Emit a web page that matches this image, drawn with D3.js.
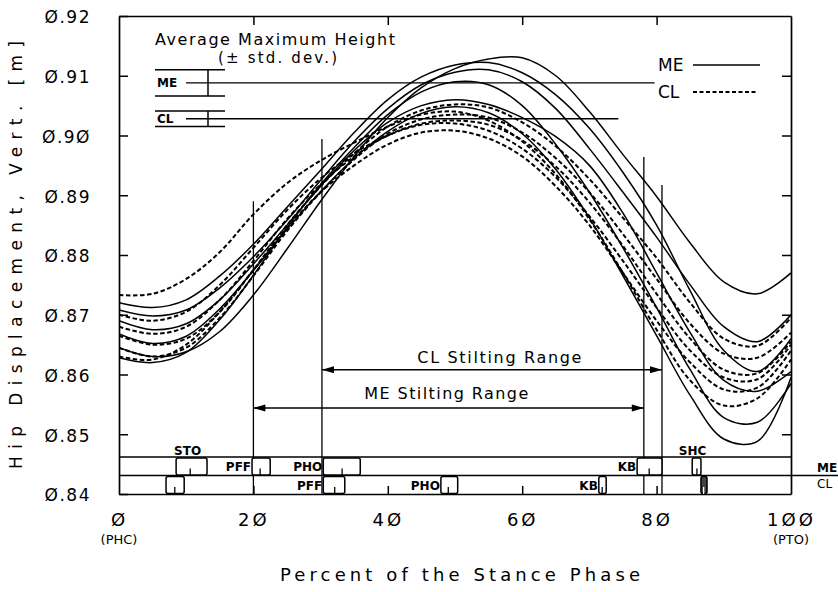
<!DOCTYPE html>
<html><head><meta charset="utf-8">
<script src="https://cdn.jsdelivr.net/npm/d3@7"></script>
<style>
body{margin:0;background:#fff}
svg text{font-family:"DejaVu Sans",sans-serif;fill:#000}
</style>
</head><body>
<svg id="c" width="838" height="592"></svg>
<script>
// ---------- data ----------
const xGrid = [0,5,10,15,20,25,30,35,40,45,50,55,60,65,70,75,80,85,90,95,100];

// ME subjects (solid)
const meS1 = [0.8645,0.8630,0.8638,0.8672,0.8733,0.8810,0.8890,0.8965,0.9030,0.9080,0.9112,0.9128,0.9130,0.9100,0.9040,0.8968,0.8898,0.8820,0.8755,0.8735,0.8770];
const meS2 = [0.8708,0.8698,0.8708,0.8745,0.8797,0.8858,0.8925,0.8990,0.9045,0.9085,0.9106,0.9110,0.9090,0.9045,0.8978,0.8905,0.8830,0.8750,0.8680,0.8655,0.8700];
const meS3 = [0.8720,0.8712,0.8725,0.8765,0.8818,0.8880,0.8942,0.9005,0.9060,0.9098,0.9118,0.9122,0.9105,0.9068,0.9012,0.8938,0.8850,0.8740,0.8640,0.8605,0.8660];
const meS4 = [0.8690,0.8675,0.8685,0.8725,0.8785,0.8850,0.8915,0.8975,0.9022,0.9050,0.9060,0.9052,0.9030,0.8998,0.8950,0.8870,0.8770,0.8670,0.8590,0.8572,0.8605];
const meS5 = [0.8628,0.8620,0.8637,0.8692,0.8766,0.8846,0.8918,0.8980,0.9035,0.9073,0.9090,0.9085,0.9050,0.8985,0.8905,0.8812,0.8712,0.8608,0.8528,0.8520,0.8585];
const meS6 = [0.8668,0.8652,0.8664,0.8710,0.8774,0.8843,0.8906,0.8962,0.9007,0.9037,0.9048,0.9038,0.9003,0.8943,0.8862,0.8765,0.8665,0.8565,0.8492,0.8488,0.8595];
// CL subjects (dashed)
const clD1 = [0.8733,0.8735,0.8760,0.8805,0.8868,0.8920,0.8958,0.8988,0.9015,0.9035,0.9040,0.9025,0.8990,0.8935,0.8860,0.8770,0.8675,0.8590,0.8548,0.8560,0.8625];
const clD2 = [0.8665,0.8650,0.8660,0.8705,0.8775,0.8850,0.8915,0.8970,0.9015,0.9042,0.9052,0.9047,0.9022,0.8982,0.8927,0.8862,0.8795,0.8720,0.8660,0.8648,0.8695];
const clD3 = [0.8645,0.8630,0.8645,0.8695,0.8765,0.8840,0.8905,0.8960,0.9003,0.9027,0.9035,0.9030,0.9005,0.8962,0.8905,0.8835,0.8760,0.8685,0.8635,0.8628,0.8670];
const clD4 = [0.8680,0.8668,0.8680,0.8725,0.8790,0.8860,0.8918,0.8965,0.9000,0.9020,0.9025,0.9018,0.8992,0.8948,0.8888,0.8815,0.8735,0.8660,0.8608,0.8602,0.8655];
const clD5 = [0.8630,0.8625,0.8650,0.8705,0.8775,0.8845,0.8905,0.8950,0.8985,0.9005,0.9008,0.8995,0.8965,0.8915,0.8850,0.8770,0.8690,0.8620,0.8575,0.8578,0.8640];
const clD6 = [0.8700,0.8690,0.8705,0.8750,0.8812,0.8875,0.8928,0.8970,0.9000,0.9018,0.9020,0.9008,0.8978,0.8930,0.8865,0.8790,0.8712,0.8640,0.8595,0.8592,0.8650];

const meSeries = [meS1, meS2, meS3, meS4, meS5, meS6];
const clSeries = [clD1, clD2, clD3, clD4, clD5, clD6];

// average maximum height (mean, sd, extent of mean line in %)
const groups = ["ME", "CL"];
const avgMaxMean = [0.9088, 0.9028];
const avgMaxSd = [0.0022, 0.0013];
const avgMaxLineEnd = [79.7, 74.3];

// stilting ranges: [start %, end %], arrow level, label level, vertical line tops
const stiltStart = [20.0, 30.2];
const stiltEnd = [78.1, 80.8];
const stiltArrowLevel = [0.8544, 0.8608];
const stiltLabelLevel = [0.8569, 0.8629];
const stiltLabelX = [48.7, 56.6];
const stiltTopStart = [0.8890, 0.8994];
const stiltTopEnd = [0.8964, 0.8917];
const stiltLabels = ["ME Stilting Range", "CL Stilting Range"];

// gait events (% of stance): lo, hi, mean
const meEvLabel = ["STO","PFF","PHO","KB","SHC"];
const meEvPos   = ["above","left","left","left","above"];
const meEvLo    = [8.5, 19.8, 30.4, 77.1, 85.3];
const meEvHi    = [13.1, 22.5, 35.9, 80.8, 86.6];
const meEvMean  = [10.6, 21.0, 33.2, 78.9, 86.0];
const clEvLabel = ["","PFF","PHO","KB",""];
const clEvPos   = ["none","left","left","left","none"];
const clEvLo    = [7.0, 30.4, 47.9, 71.4, 86.6];
const clEvHi    = [9.7, 33.6, 50.4, 72.5, 87.5];
const clEvMean  = [8.3, 32.1, 49.0, 71.9, 87.0];
const rowTop = 0.8462, rowMid = 0.8431, rowBot = 0.8400;

const yTicks = [0.84,0.85,0.86,0.87,0.88,0.89,0.90,0.91,0.92];
const yTickLabels = ["Ø.84","Ø.85","Ø.86","Ø.87","Ø.88","Ø.89","Ø.9Ø","Ø.91","Ø.92"];
const xTicks = [0,20,40,60,80,100];
const xTickLabels = ["Ø","2Ø","4Ø","6Ø","8Ø","1ØØ"];

// ---------- drawing ----------
const svg = d3.select("#c");
const x = d3.scaleLinear().domain([0,100]).range([119,791]);
const y = d3.scaleLinear().domain([0.84,0.92]).range([494,16]);

svg.append("defs").append("clipPath").attr("id","clip")
  .append("rect").attr("x",x(0)).attr("y",y(0.92)).attr("width",x(100)-x(0)).attr("height",y(0.84)-y(0.92));

// axes (frame + inward ticks)
const axL = svg.append("g").attr("transform",`translate(${x(0)},0)`)
  .call(d3.axisLeft(y).tickValues(yTicks).tickSizeInner(-9).tickSizeOuter(0).tickPadding(28)
    .tickFormat((d,i)=>yTickLabels[i]));
const axR = svg.append("g").attr("transform",`translate(${x(100)},0)`)
  .call(d3.axisRight(y).tickValues(yTicks.slice(1,-1)).tickSizeInner(-9).tickSizeOuter(0).tickFormat(""));
const axT = svg.append("g").attr("transform",`translate(0,${y(0.92)})`)
  .call(d3.axisTop(x).tickValues([20,40,60,80]).tickSizeInner(-9).tickSizeOuter(0).tickFormat(""));
const axB = svg.append("g").attr("transform",`translate(0,${y(0.84)})`)
  .call(d3.axisBottom(x).tickValues(xTicks).tickSizeInner(-8).tickSizeOuter(0).tickPadding(19)
    .tickFormat((d,i)=>xTickLabels[i]));
[axL,axR,axT,axB].forEach(a=>{
  a.selectAll("path.domain").attr("stroke","#000").attr("stroke-width",1.7);
  a.selectAll(".tick line").attr("stroke","#000").attr("stroke-width",1.5);
});
axB.selectAll(".tick").filter(d=>d===0||d===100).select("line").remove();
axL.selectAll(".tick text").attr("font-size",17).attr("letter-spacing","1.5px").attr("font-family","DejaVu Sans").attr("dy","0.4em");
axB.selectAll(".tick text").attr("font-size",18).attr("letter-spacing","3px").attr("font-family","DejaVu Sans");

// axis titles
svg.append("text").attr("transform",`translate(22,${(y(0.84)+y(0.92))/2}) rotate(-90)`)
  .attr("text-anchor","middle").attr("font-size",17).attr("textLength",428).attr("lengthAdjust","spacing")
  .text("Hip Displacement, Vert. [m]");
svg.append("text").attr("x",460).attr("y",581).attr("text-anchor","middle").attr("font-size",18)
  .attr("textLength",360).attr("lengthAdjust","spacing").text("Percent of the Stance Phase");
svg.append("text").attr("x",x(0)).attr("y",544).attr("text-anchor","middle").attr("font-size",13).text("(PHC)");
svg.append("text").attr("x",x(100)).attr("y",544).attr("text-anchor","middle").attr("font-size",13).text("(PTO)");

// curves
const line = d3.line().x((d,i)=>x(xGrid[i])).y(d=>y(d)).curve(d3.curveCatmullRom.alpha(0.5));
const gc = svg.append("g").attr("clip-path","url(#clip)");
gc.selectAll("path.me").data(meSeries).join("path").attr("class","me")
  .attr("d",line).attr("fill","none").attr("stroke","#000").attr("stroke-width",1.5);
gc.selectAll("path.cl").data(clSeries).join("path").attr("class","cl")
  .attr("d",line).attr("fill","none").attr("stroke","#000").attr("stroke-width",2)
  .attr("stroke-dasharray","4.5,2.5");

// Average maximum height legend
svg.append("text").attr("x",155).attr("y",45).attr("font-size",16).attr("textLength",240)
  .attr("lengthAdjust","spacing").text("Average  Maximum  Height");
svg.append("text").attr("x",218).attr("y",63).attr("font-size",15).attr("textLength",119)
  .attr("lengthAdjust","spacing").text("(± std. dev.)");
groups.forEach((g,i)=>{
  const m = avgMaxMean[i], s = avgMaxSd[i];
  [m+s, m-s].forEach(v=>svg.append("line").attr("x1",155).attr("x2",225).attr("y1",y(v)).attr("y2",y(v))
    .attr("stroke","#000").attr("stroke-width",1.4));
  svg.append("line").attr("x1",208).attr("x2",208).attr("y1",y(m+s)).attr("y2",y(m-s)).attr("stroke","#000").attr("stroke-width",1.5);
  svg.append("line").attr("x1",186).attr("x2",x(avgMaxLineEnd[i])).attr("y1",y(m)).attr("y2",y(m)).attr("stroke","#000").attr("stroke-width",1.4);
  svg.append("text").attr("x",157).attr("y",y(m)+4.5).attr("font-size",12).attr("font-weight","bold").text(g);
});

// top-right legend
svg.append("text").attr("x",658).attr("y",71).attr("font-size",17).text("ME");
svg.append("line").attr("x1",693).attr("x2",760).attr("y1",65).attr("y2",65).attr("stroke","#000").attr("stroke-width",1.5);
svg.append("text").attr("x",658).attr("y",98).attr("font-size",17).text("CL");
svg.append("line").attr("x1",693).attr("x2",758).attr("y1",92).attr("y2",92).attr("stroke","#000").attr("stroke-width",1.8).attr("stroke-dasharray","4,2.5");

// stilting ranges
groups.forEach((g,i)=>{
  const xs = x(stiltStart[i]), xe = x(stiltEnd[i]), ya = y(stiltArrowLevel[i]);
  svg.append("line").attr("x1",xs).attr("x2",xs).attr("y1",y(stiltTopStart[i])).attr("y2",y(0.84)).attr("stroke","#000").attr("stroke-width",1.3);
  svg.append("line").attr("x1",xe).attr("x2",xe).attr("y1",y(stiltTopEnd[i])).attr("y2",y(0.84)).attr("stroke","#000").attr("stroke-width",1.3);
  svg.append("line").attr("x1",xs).attr("x2",xe).attr("y1",ya).attr("y2",ya).attr("stroke","#000").attr("stroke-width",1.4);
  svg.append("path").attr("d",`M${xs},${ya}l12,-3.5l0,7z`).attr("fill","#000");
  svg.append("path").attr("d",`M${xe},${ya}l-12,-3.5l0,7z`).attr("fill","#000");
  svg.append("text").attr("x",x(stiltLabelX[i])).attr("y",y(stiltLabelLevel[i])+6).attr("text-anchor","middle")
    .attr("font-size",16).attr("textLength",164).attr("lengthAdjust","spacing").text(stiltLabels[i]);
});

// event rows
[[rowTop, x(100)], [rowMid, 838]].forEach(([v,xe])=>svg.append("line").attr("x1",x(0)).attr("x2",xe)
  .attr("y1",y(v)).attr("y2",y(v)).attr("stroke","#000").attr("stroke-width",1.4));
svg.append("text").attr("x",817).attr("y",y(rowMid)-3).attr("font-size",12).attr("font-weight","bold").text("ME");
svg.append("text").attr("x",817).attr("y",y(rowMid)+13).attr("font-size",12).text("CL");

function drawEvents(lo,hi,mean,labels,pos,top,bot,fillIdx){
  lo.forEach((l,i)=>{
    const x0=x(l), x1=x(hi[i]), y0=y(top)+1, y1=y(bot);
    svg.append("rect").attr("x",x0).attr("y",y0).attr("width",x1-x0).attr("height",y1-y0-0.5)
      .attr("rx",2).attr("fill",i===fillIdx?"#444":"#fff").attr("stroke","#000").attr("stroke-width",1.5);
    svg.append("line").attr("x1",x(mean[i])).attr("x2",x(mean[i])).attr("y1",y1).attr("y2",y1-7)
      .attr("stroke",i===fillIdx?"#fff":"#000").attr("stroke-width",1.3);
    if(pos[i]==="left") svg.append("text").attr("x",x0-1).attr("y",(y0+y1)/2+4.5).attr("text-anchor","end")
      .attr("font-size",12).attr("font-weight","bold").text(labels[i]);
    if(pos[i]==="above") svg.append("text").attr("x",(x0+x1)/2-4).attr("y",y0-3).attr("text-anchor","middle")
      .attr("font-size",12).attr("font-weight","bold").text(labels[i]);
  });
}
drawEvents(meEvLo,meEvHi,meEvMean,meEvLabel,meEvPos,rowTop,rowMid,-1);
drawEvents(clEvLo,clEvHi,clEvMean,clEvLabel,clEvPos,rowMid,rowBot,4);
</script>
</body></html>
